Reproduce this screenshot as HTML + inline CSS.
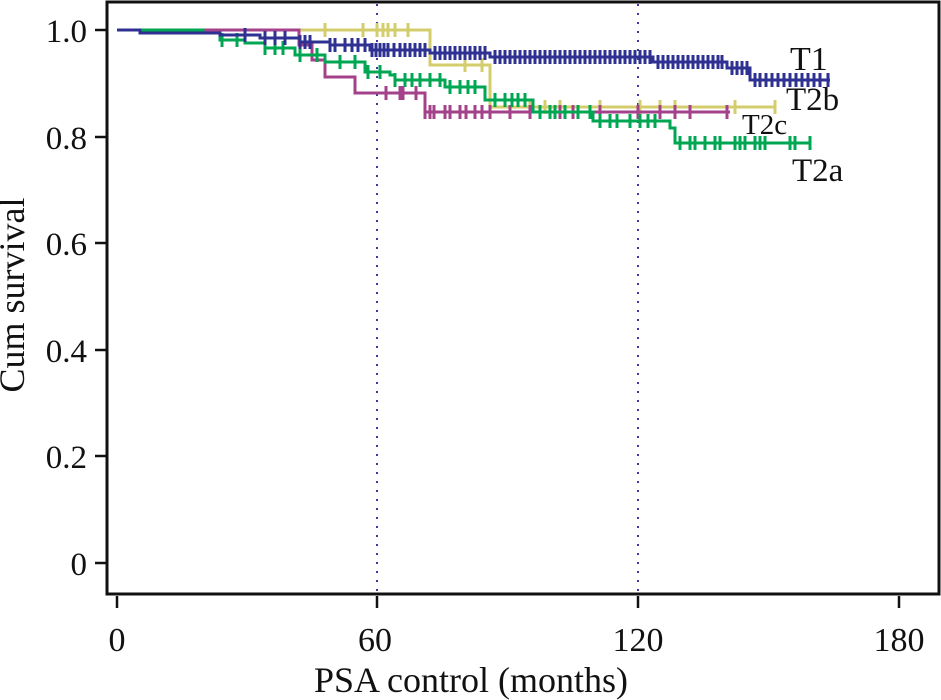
<!DOCTYPE html>
<html><head><meta charset="utf-8"><style>
body{margin:0;background:#fff}
svg{display:block}
text{font-family:"Liberation Serif",serif;fill:#111}
</style></head><body>
<svg width="941" height="700" viewBox="0 0 941 700" xmlns="http://www.w3.org/2000/svg">
<rect x="107" y="2" width="832" height="592" fill="none" stroke="#111" stroke-width="3"/>
<g stroke="#111" stroke-width="2.5">
<line x1="95" y1="30" x2="107" y2="30"/><line x1="95" y1="137" x2="107" y2="137"/>
<line x1="95" y1="243" x2="107" y2="243"/><line x1="95" y1="350" x2="107" y2="350"/>
<line x1="95" y1="456" x2="107" y2="456"/><line x1="95" y1="563" x2="107" y2="563"/>
<line x1="117" y1="596" x2="117" y2="608"/><line x1="377" y1="596" x2="377" y2="608"/>
<line x1="638" y1="596" x2="638" y2="608"/><line x1="899" y1="596" x2="899" y2="608"/>
</g>
<g font-size="33" text-anchor="end">
<text x="87" y="42">1.0</text><text x="87" y="149">0.8</text><text x="87" y="255">0.6</text>
<text x="87" y="362">0.4</text><text x="87" y="468">0.2</text><text x="87" y="575">0</text>
</g>
<g font-size="34" text-anchor="middle">
<text x="117" y="651">0</text><text x="375" y="651">60</text><text x="638" y="651">120</text><text x="899" y="651">180</text>
<text x="471" y="692" font-size="36">PSA control (months)</text>
<text transform="translate(24,295) rotate(-90)" font-size="36">Cum survival</text>
</g>
<g stroke="#3a3aa8" stroke-width="2" stroke-dasharray="2,7">
<line x1="377" y1="4" x2="377" y2="592"/><line x1="638" y1="4" x2="638" y2="592"/>
</g>
<g fill="none" stroke-width="3">
<path stroke="#d4cd6e" d="M117 30H430V65H490V107H776"/>
<path stroke="#d4cd6e" d="M325 23v14M363 23v14M377 23v14M383 23v14M388 23v14M395 23v14M408 23v14M465 58v14M482 58v14M530 100v14M545 100v14M560 100v14M600 100v14M640 100v14M660 100v14M675 100v14M735 100v14M775 100v14"/>
<path stroke="#a3428a" d="M117 30H299V45H312V60H325V77H355V93H425V112H730"/>
<path stroke="#a3428a" d="M386 86v14M400 86v14M403 86v14M416 86v14M425 105v14M430 105v14M434 105v14M445 105v14M450 105v14M460 105v14M466 105v14M475 105v14M482 105v14M490 105v14M510 105v14M530 105v14M560 105v14M573 105v14M600 105v14M638 105v14M660 105v14M675 105v14M690 105v14M727 105v14"/>
<path stroke="#00a651" d="M117 30H203V33H220V40H245V43H265V48H295V55H325V62H365V72H390V75H395V80H445V87H485V100H533V112H593V121H670V128H675V143H810"/>
<path stroke="#00a651" d="M222 33v14M237 33v14M265 41v14M275 41v14M283 41v14M300 48v14M317 48v14M340 55v14M355 55v14M368 65v14M380 65v14M395 73v14M405 73v14M412 73v14M420 73v14M430 73v14M440 73v14M450 80v14M460 80v14M468 80v14M475 80v14M495 93v14M505 93v14M512 93v14M518 93v14M525 93v14M540 105v14M550 105v14M555 105v14M565 105v14M578 105v14M590 105v14M600 114v14M610 114v14M617 114v14M630 114v14M640 114v14M648 114v14M655 114v14M680 136v14M690 136v14M695 136v14M705 136v14M715 136v14M720 136v14M735 136v14M740 136v14M745 136v14M755 136v14M760 136v14M765 136v14M790 136v14M795 136v14M810 136v14"/>
<path stroke="#2e3192" d="M117 30H140V33H220V35H260V38H300V42H330V45H370V50H430V53H490V57H653V62H727V68H750V80H830"/>
<path stroke="#2e3192" d="M245 28v14M265 31v14M275 31v14M285 31v14M300 35v14M305 35v14M310 35v14M330 38v14M335 38v14M345 38v14M352 38v14M358 38v14M365 38v14M372 43v14M376 43v14M380 43v14M384 43v14M388 43v14M394 43v14M400 43v14M405 43v14M410 43v14M415 43v14M420 43v14M425 43v14M435 46v14M440 46v14M445 46v14M450 46v14M455 46v14M460 46v14M465 46v14M470 46v14M475 46v14M480 46v14M485 46v14M495 50v14M500 50v14M505 50v14M510 50v14M515 50v14M520 50v14M525 50v14M530 50v14M535 50v14M540 50v14M545 50v14M550 50v14M555 50v14M560 50v14M565 50v14M570 50v14M575 50v14M580 50v14M585 50v14M590 50v14M595 50v14M600 50v14M605 50v14M610 50v14M615 50v14M620 50v14M625 50v14M630 50v14M635 50v14M640 50v14M645 50v14M650 50v14M658 55v14M663 55v14M668 55v14M673 55v14M678 55v14M683 55v14M688 55v14M693 55v14M698 55v14M703 55v14M708 55v14M713 55v14M718 55v14M722 55v14M732 61v14M737 61v14M742 61v14M747 61v14M755 73v14M760 73v14M766 73v14M772 73v14M778 73v14M784 73v14M790 73v14M796 73v14M802 73v14M808 73v14M814 73v14M820 73v14M828 73v14"/>
</g>
<text x="790" y="70" font-size="34">T1</text>
<text x="786" y="110" font-size="33">T2b</text>
<text x="742" y="134" font-size="29">T2c</text>
<text x="792" y="181" font-size="33">T2a</text>
</svg>
</body></html>
